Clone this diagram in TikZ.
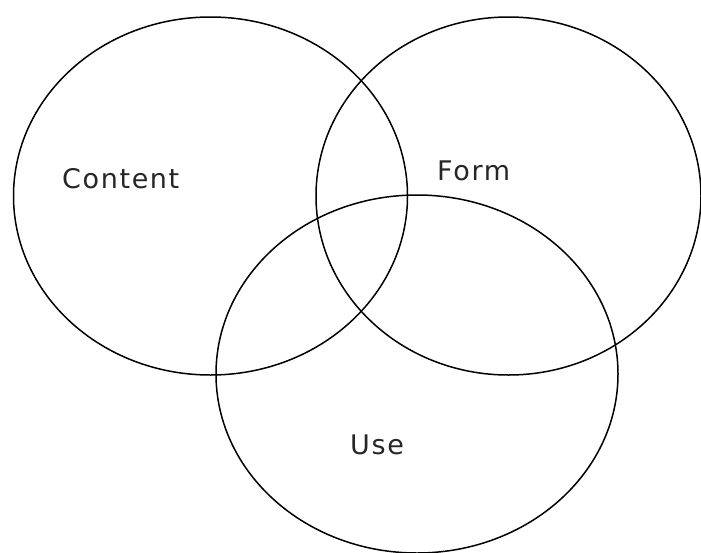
\documentclass[tikz,border=0pt]{standalone}
\usepackage{fontspec}
\setmainfont{DejaVu Sans}
\newfontfamily\lblfont[LetterSpace=6]{DejaVu Sans}
\begin{document}
\begin{tikzpicture}[x=1pt,y=-1pt,
  ring/.style={draw=black,line width=1.5pt},
  lbl/.style={font=\lblfont\fontsize{27}{30}\selectfont,text=black!85,inner sep=0pt,anchor=base west}]
\useasboundingbox (0,0) rectangle (701,552);
\draw[ring] (210.5,196) ellipse [x radius=197pt, y radius=179pt];
\draw[ring] (508.5,196) ellipse [x radius=192.5pt, y radius=179pt];
\draw[ring] (417,374) ellipse [x radius=201pt, y radius=179pt];
\node[lbl] (content) at (62,188) {Content};
\node[lbl] (form) at (437,180) {Form};
\node[lbl] (use) at (350,454) {Use};
\end{tikzpicture}
\end{document}
